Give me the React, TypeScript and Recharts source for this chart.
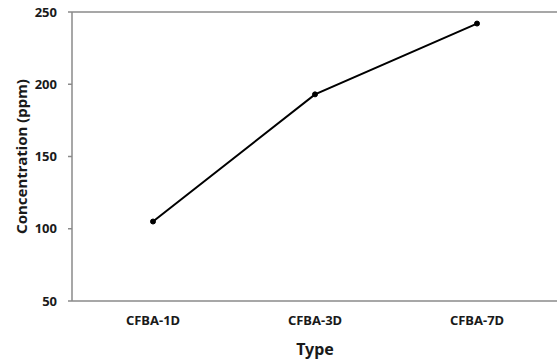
import React from "react"
import { LineChart, Line, XAxis, YAxis, ReferenceLine } from "recharts"

const categories = ["CFBA-1D", "CFBA-3D", "CFBA-7D"]
const concentration = [105, 193, 242]
const yTicks = [50, 100, 150, 200, 250]

const data = categories.map((type, i) => ({ type, value: concentration[i] }))

const axisColor = "#8a8a8a"
const textColor = "#1a1a1a"
const font = "'Noto Sans', 'Open Sans', sans-serif"

const App: React.FC = () => {
	return (
		<div style={{ position: "absolute", left: 0, top: 0, width: 557, height: 360, overflow: "hidden", background: "#fff" }}>
			<LineChart width={558} height={360} data={data} margin={{ top: 12, right: 0, left: 0, bottom: 0 }}>
				<XAxis
					dataKey="type"
					height={59}
					padding={{ left: 81, right: 81 }}
					tickLine={false}
					tickSize={0}
					tickMargin={15}
					axisLine={{ stroke: axisColor, strokeWidth: 1.5 }}
					tick={{ fill: textColor, fontSize: 13, fontWeight: 700, fontFamily: font }}
					label={{ value: "Type", position: "insideBottom", offset: 5, fill: textColor, fontSize: 16, fontWeight: 700, fontFamily: font }}
				/>
				<YAxis
					width={72}
					domain={[50, 250]}
					ticks={yTicks}
					tickSize={4}
					tickMargin={11}
					tickLine={{ stroke: axisColor, strokeWidth: 1.5 }}
					axisLine={{ stroke: axisColor, strokeWidth: 1.5 }}
					tick={{ fill: textColor, fontSize: 13, fontWeight: 700, fontFamily: font }}
					label={{
						value: "Concentration (ppm)",
						angle: -90,
						position: "insideLeft",
						offset: 22,
						fill: textColor,
						fontSize: 15,
						fontWeight: 700,
						fontFamily: font,
						style: { textAnchor: "middle" },
					}}
				/>
				<ReferenceLine y={250} stroke={axisColor} strokeWidth={1.5} />
				<Line
					type="linear"
					dataKey="value"
					stroke="#000"
					strokeWidth={2}
					dot={{ r: 2.5, fill: "#000", stroke: "#000", strokeWidth: 1 }}
					isAnimationActive={false}
				/>
			</LineChart>
		</div>
	)
}

export default App
